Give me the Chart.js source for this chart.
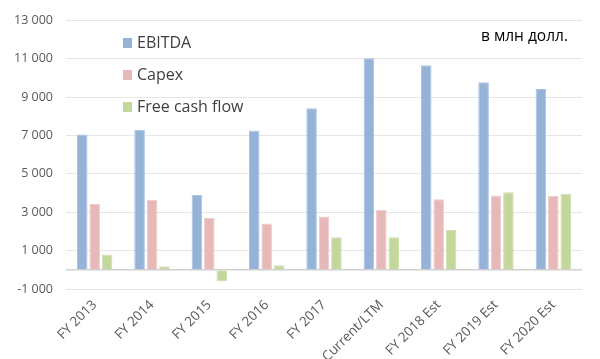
<!DOCTYPE html>
<html>
<head>
<meta charset="utf-8">
<script src="https://cdn.jsdelivr.net/npm/chart.js@4/dist/chart.umd.min.js"></script>
<style>
  html, body { margin: 0; padding: 0; background: #fff; }
  #wrap { width: 600px; height: 359px; position: relative; }
</style>
</head>
<body>
<div id="wrap"><canvas id="fin"></canvas></div>
<script>
var categories = ['FY 2013', 'FY 2014', 'FY 2015', 'FY 2016', 'FY 2017', 'Current/LTM', 'FY 2018 Est', 'FY 2019 Est', 'FY 2020 Est'];
var ebitda = [7050, 7300, 3900, 7270, 8420, 11030, 10670, 9780, 9430];
var capex = [3430, 3650, 2700, 2420, 2780, 3130, 3680, 3880, 3850];
var freeCashFlow = [800, 190, -580, 240, 1700, 1700, 2080, 4050, 3970];
var yTicks = [-1000, 1000, 3000, 5000, 7000, 9000, 11000, 13000];
var unitsNote = 'в млн долл.';

var FONT = '"Open Sans", sans-serif';

function fmt(v) {
    var s = String(Math.abs(v));
    s = s.replace(/\B(?=(\d{3})+(?!\d))/g, ' ');
    return (v < 0 ? '-' : '') + s;
}

// legend drawn inside the plot, top left, plus the units note
var insideLegend = {
    id: 'insideLegend',
    afterDraw: function (chart) {
        var ctx = chart.ctx;
        ctx.save();
        ctx.font = '16px ' + FONT;
        ctx.textBaseline = 'middle';
        chart.data.datasets.forEach(function (ds, i) {
            var y = 43 + i * 32;
            ctx.fillStyle = ds.backgroundColor;
            ctx.fillRect(123, y - 5, 9, 10);
            ctx.fillStyle = '#404040';
            ctx.fillText(ds.label, 137, y);
        });
        ctx.fillStyle = '#000';
        ctx.font = '15.5px ' + FONT;
        ctx.textAlign = 'right';
        ctx.fillText(unitsNote, 568, 37);
        ctx.restore();
    }
};

var ctx = document.getElementById('fin').getContext('2d');
var chart = new Chart(ctx, {
    type: 'bar',
    data: {
        labels: categories,
        datasets: [
            { label: 'EBITDA', data: ebitda, backgroundColor: '#95b3d7', borderColor: '#a9c3e2', borderWidth: 1 },
            { label: 'Capex', data: capex, backgroundColor: '#e6b9b8', borderColor: '#eecbca', borderWidth: 1 },
            { label: 'Free cash flow', data: freeCashFlow, backgroundColor: '#c3d69b', borderColor: '#d1e0b0', borderWidth: 1 }
        ]
    },
    options: {
        responsive: true,
        maintainAspectRatio: false,
        animation: false,
        categoryPercentage: 0.65,
        barPercentage: 0.85,
        layout: { padding: { top: 10, right: 18, left: 0, bottom: 0 } },
        plugins: {
            legend: { display: false },
            tooltip: { enabled: false }
        },
        scales: {
            x: {
                grid: { display: false },
                border: { display: false },
                ticks: {
                    color: '#595959',
                    font: { family: FONT, size: 13.5 },
                    minRotation: 45,
                    maxRotation: 45,
                    padding: 0
                },
                afterFit: function (scale) { scale.height = 70; }
            },
            y: {
                min: -1000,
                max: 13000,
                border: { display: false },
                afterBuildTicks: function (scale) {
                    scale.ticks = yTicks.concat([0]).map(function (v) { return { value: v }; });
                },
                grid: {
                    drawTicks: false,
                    color: function (c) { return c.tick && c.tick.value === 0 ? '#d0d0d0' : '#e6e6e6'; },
                    lineWidth: function (c) { return c.tick && c.tick.value === 0 ? 1.5 : 1; }
                },
                ticks: {
                    color: '#595959',
                    font: { family: FONT, size: 12.5 },
                    padding: 13,
                    callback: function (v) { return v === 0 ? '' : fmt(v); }
                },
                afterFit: function (scale) { scale.width = 66; }
            }
        }
    },
    plugins: [insideLegend]
});
</script>
</body>
</html>
